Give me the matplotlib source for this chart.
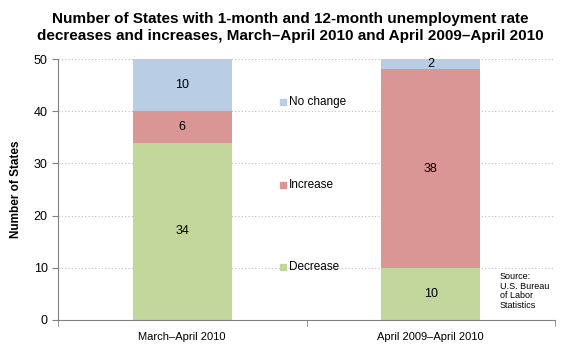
import matplotlib.pyplot as plt
import numpy as np

plt.rcParams["font.family"] = ["Liberation Sans", "DejaVu Sans"]

categories = ["March\u2013April 2010", "April 2009\u2013April 2010"]
decrease = [34, 10]
increase = [6, 38]
no_change = [10, 2]
series_names = ["Decrease", "Increase", "No change"]
colors = ["#C3D69B", "#D99694", "#B9CDE5"]
yticks = [0, 10, 20, 30, 40, 50]

fig = plt.figure(figsize=(5.8, 3.6), dpi=100)
ax = fig.add_axes([58 / 580, 1 - 320 / 360, (555 - 58) / 580, (320 - 59) / 360])

x = np.arange(len(categories))
width = 0.40
bottom = np.zeros(len(categories))
for values, color in zip([decrease, increase, no_change], colors):
    bars = ax.bar(x, values, width, bottom=bottom, color=color, zorder=2)
    ax.bar_label(bars, labels=[str(v) for v in values], label_type="center", fontsize=9)
    bottom += np.array(values)

ax.set_xlim(-0.5, 1.5)
ax.set_ylim(0, 50)
ax.set_yticks(yticks)
ax.set_xticks(x)
ax.set_xticklabels(categories, fontsize=8)
ax.set_xticks([-0.5, 0.5, 1.5], minor=True)
ax.tick_params(axis="x", which="major", length=0, pad=9)
ax.tick_params(axis="x", which="minor", length=4, color="#808080")
ax.tick_params(axis="y", labelsize=9, length=4, color="#808080")
ax.grid(axis="y", linestyle=(0, (1, 2)), color="#BFBFBF", linewidth=0.8, zorder=0)
for side in ("top", "right"):
    ax.spines[side].set_visible(False)
for side in ("left", "bottom"):
    ax.spines[side].set_color("#808080")
ax.set_ylabel("Number of States", fontsize=8.5, fontweight="bold", labelpad=8)

# legend sits between the bars, one entry per segment level
legend_y = [(320 - 267) / 261 * 50, (320 - 185) / 261 * 50, (320 - 102) / 261 * 50]
for name, color, ly in zip(series_names, colors, legend_y):
    ax.scatter([0.405], [ly], marker="s", s=16, color=color, zorder=3)
    ax.text(0.43, ly, name, fontsize=8.5, va="center", ha="left")

fig.text(500 / 580, 1 - 272 / 360, "Source:\nU.S. Bureau\nof Labor\nStatistics",
         fontsize=6.5, va="top", ha="left", linespacing=1.1)

fig.suptitle("Number of States with 1-month and 12-month unemployment rate\n"
             "decreases and increases, March\u2013April 2010 and April 2009\u2013April 2010",
             fontsize=11, fontweight="bold", y=0.968, linespacing=1.3)

fig.savefig("out.png")
